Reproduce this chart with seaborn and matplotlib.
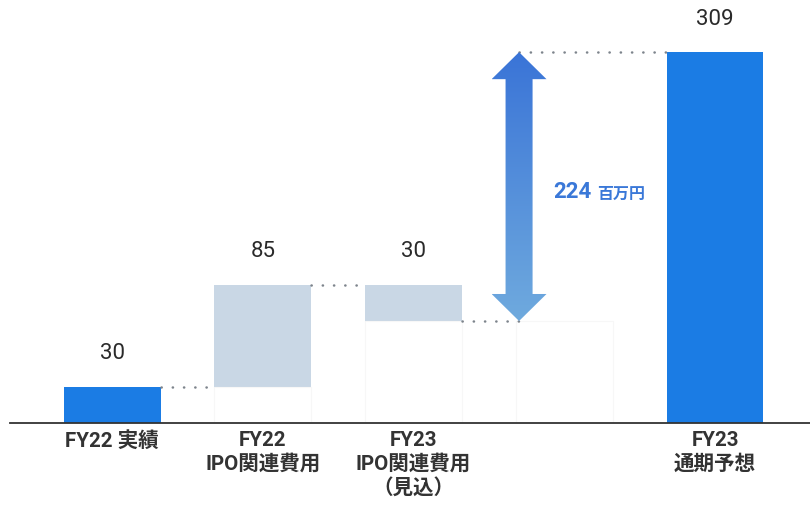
import numpy as np
import pandas as pd
import matplotlib
matplotlib.use("Agg")
import matplotlib.pyplot as plt
import seaborn as sns
from matplotlib.patches import Polygon
from matplotlib.colors import LinearSegmentedColormap

categories = ["FY22 実績", "FY22\nIPO関連費用", "FY23\nIPO関連費用\n（見込）", " ", "FY23\n通期予想"]
tops = [30, 115, 115, 85, 309]
bases = [0, 30, 85, 85, 0]
value_labels = ["30", "85", "30", "", "309"]
diff_value = "224"
diff_unit = "百万円"

sns.set_theme(style="white")
plt.rcParams['font.family'] = ['Roboto', 'Noto Sans CJK JP', 'DejaVu Sans']

fig = plt.figure(figsize=(8.1, 5.06), dpi=100)
ax = fig.add_axes([10/810, (506-424)/506, 800/810, 424/506])

df = pd.DataFrame({"cat": categories, "top": tops, "base": bases})
blue = "#1b7ce4"
light = "#c9d7e5"
palette = [blue, light, light, "#ffffff", blue]
W = 0.643

sns.barplot(data=df, x="cat", y="top", hue="cat", palette=palette, legend=False,
            width=W, ax=ax, linewidth=0, saturation=1)
sns.barplot(data=df[df["base"] > 0], x="cat", y="base", color="white", width=W, ax=ax,
            edgecolor="#f7f7f7", linewidth=0.8, saturation=1, order=categories)

ax.set_xlim(-0.677, 4.63)
ax.set_ylim(0, 353.3)
ax.set_ylabel("")
ax.set_xlabel("")
ax.set_yticks([])
for s in ["left", "right", "top"]:
    ax.spines[s].set_visible(False)
ax.spines["bottom"].set_color("#333333")
ax.spines["bottom"].set_linewidth(1.3)
ax.set_xticks(range(len(categories)))
ax.set_xticklabels(categories, fontsize=14.8, fontweight="bold", color="#333333",
                   linespacing=1.25, family=['Roboto', 'Noto Sans CJK JP'])
ax.tick_params(axis="x", length=0, pad=5)

# value labels
for i, (lab, t, b) in enumerate(zip(value_labels, tops, bases)):
    if lab:
        ax.annotate(lab, (i, t), xytext=(0, 34), textcoords="offset pixels",
                    ha="center", va="center", fontsize=16, color="#2a2a2a")

# dotted connectors
arrow_x = 2.70
dot_kw = dict(color="#7d848c", linewidth=1.8, linestyle=(0, (0.1, 4.4)), dash_capstyle="round")
ax.plot([0 + W/2, 1 - W/2], [30, 30], **dot_kw)
ax.plot([1 + W/2, 2 - W/2], [115, 115], **dot_kw)
ax.plot([2 + W/2, arrow_x], [85, 85], **dot_kw)
ax.plot([arrow_x, 4 - W/2], [309, 309], **dot_kw)

# gradient double arrow
y0, y1 = 85, 309
hw, sw, hh = 0.182, 0.0896, 22.5
pts = [(arrow_x, y1), (arrow_x + hw, y1 - hh), (arrow_x + sw, y1 - hh), (arrow_x + sw, y0 + hh),
       (arrow_x + hw, y0 + hh), (arrow_x, y0), (arrow_x - hw, y0 + hh), (arrow_x - sw, y0 + hh),
       (arrow_x - sw, y1 - hh), (arrow_x - hw, y1 - hh)]
poly = Polygon(pts, closed=True, facecolor="none", edgecolor="none")
ax.add_patch(poly)
cmap = LinearSegmentedColormap.from_list("g", ["#6faade", "#3a74d7"])
grad = np.linspace(0, 1, 256).reshape(-1, 1)
im = ax.imshow(grad, extent=(arrow_x - hw, arrow_x + hw, y0, y1), origin="lower",
               cmap=cmap, aspect="auto", zorder=3)
im.set_clip_path(poly)

ax.text(2.925, 193, diff_value, ha="left", va="center", fontsize=16, fontweight="bold",
        color="#3a78d8", family=['Roboto', 'Noto Sans CJK JP'])
ax.text(3.218, 192, diff_unit, ha="left", va="center", fontsize=11.5, fontweight="bold",
        color="#3a78d8", family=['Noto Sans CJK JP'])

fig.savefig("out.png", dpi=100)
